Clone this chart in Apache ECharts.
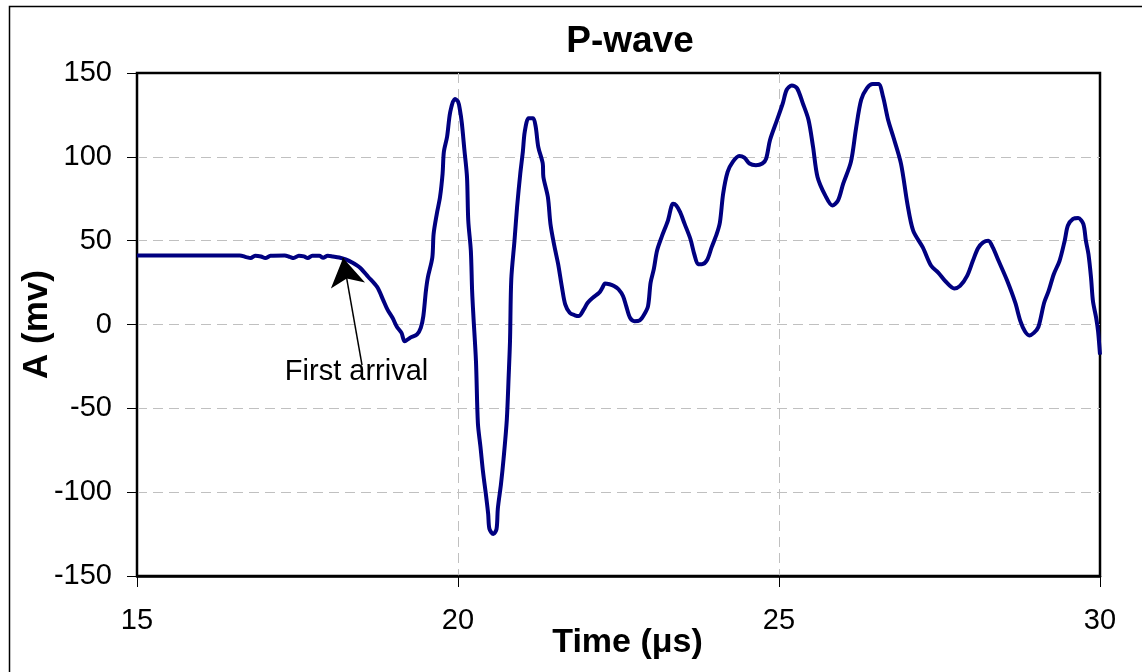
<!DOCTYPE html>
<html>
<head>
<meta charset="utf-8">
<title>P-wave</title>
<script src="https://cdn.jsdelivr.net/npm/echarts@6/dist/echarts.min.js"></script>
<style>
  html, body { margin: 0; padding: 0; background: #fff; overflow: hidden; }
  #chart { width: 1142px; height: 672px; }
</style>
</head>
<body>
<div id="chart"></div>
<script>
// Sampled P-wave trace: time in microseconds, amplitude in mV
const timeUs = [
  15.0, 16.6, 16.7, 16.77, 16.84, 16.93, 17.0, 17.08, 17.3, 17.38,
  17.44, 17.52, 17.6, 17.66, 17.73, 17.84, 17.9, 17.97, 18.05, 18.15,
  18.25, 18.35, 18.47, 18.6, 18.74, 18.83, 18.9, 18.98, 19.05, 19.12,
  19.17, 19.25, 19.36, 19.42, 19.46, 19.5, 19.53, 19.6, 19.62, 19.67,
  19.72, 19.76, 19.78, 19.83, 19.88, 19.95, 20.0, 20.03, 20.06, 20.1,
  20.14, 20.16, 20.2, 20.22, 20.24, 20.28, 20.31, 20.35, 20.39, 20.44,
  20.47, 20.49, 20.55, 20.6, 20.62, 20.67, 20.71, 20.76, 20.79, 20.81,
  20.83, 20.88, 20.92, 20.97, 21.01, 21.04, 21.1, 21.17, 21.21, 21.25,
  21.32, 21.33, 21.4, 21.44, 21.5, 21.56, 21.62, 21.67, 21.74, 21.82,
  21.88, 21.96, 22.02, 22.1, 22.2, 22.25, 22.29, 22.36, 22.43, 22.5,
  22.57, 22.62, 22.68, 22.75, 22.83, 22.9, 22.96, 23.0, 23.05, 23.1,
  23.17, 23.27, 23.35, 23.4, 23.46, 23.53, 23.62, 23.68, 23.74, 23.8,
  23.88, 23.95, 24.03, 24.08, 24.13, 24.2, 24.28, 24.38, 24.46, 24.54,
  24.64, 24.74, 24.8, 24.86, 24.97, 25.06, 25.12, 25.2, 25.28, 25.37,
  25.46, 25.53, 25.6, 25.72, 25.83, 25.92, 26.0, 26.12, 26.2, 26.28,
  26.37, 26.46, 26.55, 26.62, 26.7, 26.78, 26.9, 27.0, 27.09, 27.24,
  27.37, 27.48, 27.6, 27.73, 27.82, 27.93, 28.02, 28.1, 28.18, 28.26,
  28.33, 28.42, 28.55, 28.68, 28.76, 28.83, 28.9, 28.97, 29.04, 29.13,
  29.2, 29.28, 29.37, 29.45, 29.5, 29.58, 29.66, 29.74, 29.78, 29.82,
  29.86, 29.89, 29.94, 29.97, 30.0
];
const amplitudeMv = [
  41.2, 41.2, 40.2, 39.6, 41.0, 40.6, 39.6, 41.0, 41.2, 40.3,
  39.6, 41.0, 40.6, 39.6, 41.0, 41.0, 39.8, 41.0, 40.6, 40.0,
  38.8, 37.0, 34.0, 28.5, 22.4, 15, 9, 4, -1.5, -5,
  -10, -8, -6, -2, 5, 20, 28, 40, 54, 66,
  76, 90, 103, 112, 127, 134.5, 133, 128, 120, 104,
  88, 62, 44, 20, 5, -22, -59, -73, -88, -103,
  -113, -122, -125, -122, -110, -95, -80, -57, -30, -10,
  27, 50, 70, 90, 103, 115, 123, 123, 118, 106,
  96, 88, 76, 60, 47, 36, 22, 12, 7, 5.5,
  5, 9, 13, 16, 19, 22, 24.5, 24, 23, 21,
  17, 11, 4, 2, 2.5, 6, 11, 25, 33, 44,
  52, 62, 72, 71, 67, 60, 51, 42, 36, 36,
  38.5, 46, 54, 61, 78, 91, 97, 100.5, 99.5, 96,
  95, 96, 99, 110, 122, 132, 140, 142.5, 141, 132,
  122, 106, 88, 77, 71, 74, 84, 97, 117, 134,
  141, 143.5, 143.5, 136, 122, 112, 96, 72, 56, 46,
  35, 31, 25.5, 21.5, 23, 29, 38, 45.5, 49, 50,
  46, 38, 26.5, 13, 2, -4, -6.5, -5, -1.5, 13,
  20, 30, 38, 50, 59, 63, 63.5, 60, 50, 42,
  28, 14, 4, -4, -18
];

// Axis ranges and ticks
const timeRange = { min: 15, max: 30, step: 5 };
const ampRange = { min: -150, max: 150, step: 50 };

// "First arrival" annotation: arrow from the label up to the onset
const arrivalArrowFrom = [18.505, -24.2];
const arrivalArrowTo = [18.21, 39.7];
const arrivalLabelAt = [18.42, -28.6];
const arrivalText = 'First arrival';

const trace = timeUs.map((t, i) => [t, amplitudeMv[i]]);

const FONT = "'Liberation Sans', Arial, Helvetica, sans-serif";
const gridDash = { color: '#c0c0c0', width: 1, type: [10, 6] };

const chart = echarts.init(document.getElementById('chart'), null, { renderer: 'canvas' });

chart.setOption({
  animation: false,
  backgroundColor: '#ffffff',
  textStyle: { fontFamily: FONT },
  title: {
    text: 'P-wave',
    left: 625,
    textAlign: 'center',
    top: 18,
    textStyle: { fontFamily: FONT, fontSize: 37, fontWeight: 'bold', color: '#000' }
  },
  graphic: [{
    type: 'rect',
    left: 7,
    top: 4,
    shape: { x: 0, y: 0, width: 1200, height: 720 },
    style: { fill: 'none', stroke: '#000', lineWidth: 1.5 },
    silent: true,
    z: -1
  }],
  grid: {
    left: 137,
    top: 73,
    width: 963,
    height: 503,
    outerBoundsMode: 'none',
    containLabel: false,
    show: true,
    borderColor: '#000',
    borderWidth: 2.5,
    backgroundColor: '#fff'
  },
  xAxis: {
    type: 'value',
    min: timeRange.min,
    max: timeRange.max,
    interval: timeRange.step,
    name: 'Time (μs)',
    nameLocation: 'middle',
    nameGap: 50,
    nameMoveOverlap: false,
    nameTextStyle: { fontFamily: FONT, fontSize: 34, fontWeight: 'bold', color: '#000', padding: [0, 0, 0, 18] },
    axisLine: { onZero: false, lineStyle: { color: '#000', width: 2.5 } },
    axisTick: { show: true, inside: false, length: 11, lineStyle: { color: '#000', width: 1 } },
    axisLabel: { fontFamily: FONT, fontSize: 29, color: '#000', margin: 30 },
    splitLine: { show: true, showMinLine: false, showMaxLine: false, lineStyle: gridDash }
  },
  yAxis: {
    type: 'value',
    min: ampRange.min,
    max: ampRange.max,
    interval: ampRange.step,
    name: 'A (mv)',
    nameLocation: 'middle',
    nameGap: 82,
    nameMoveOverlap: false,
    nameTextStyle: { fontFamily: FONT, fontSize: 35, fontWeight: 'bold', color: '#000' },
    axisLine: { show: true, lineStyle: { color: '#000', width: 2 } },
    axisTick: { show: true, inside: false, length: 10, lineStyle: { color: '#000', width: 1 } },
    axisLabel: { fontFamily: FONT, fontSize: 29, color: '#000', margin: 25 },
    splitLine: { show: true, showMinLine: false, showMaxLine: false, lineStyle: gridDash }
  },
  series: [{
    type: 'line',
    name: 'P-wave',
    data: trace,
    showSymbol: false,
    smooth: 0.3,
    lineStyle: { color: '#000080', width: 4 },
    itemStyle: { color: '#000080' },
    z: 3,
    markLine: {
      silent: true,
      symbol: ['none', 'arrow'],
      symbolSize: [26, 28],
      lineStyle: { color: '#000', width: 1.5, type: 'solid' },
      itemStyle: { color: '#000' },
      label: { show: false },
      data: [[{ coord: arrivalArrowFrom }, { coord: arrivalArrowTo }]]
    },
    markPoint: {
      silent: true,
      symbol: 'rect',
      symbolSize: 1,
      itemStyle: { color: 'rgba(0,0,0,0)' },
      label: {
        show: true,
        position: 'inside',
        formatter: arrivalText,
        fontFamily: FONT,
        fontSize: 29,
        color: '#000'
      },
      data: [{ coord: arrivalLabelAt }]
    }
  }]
});
</script>
</body>
</html>
